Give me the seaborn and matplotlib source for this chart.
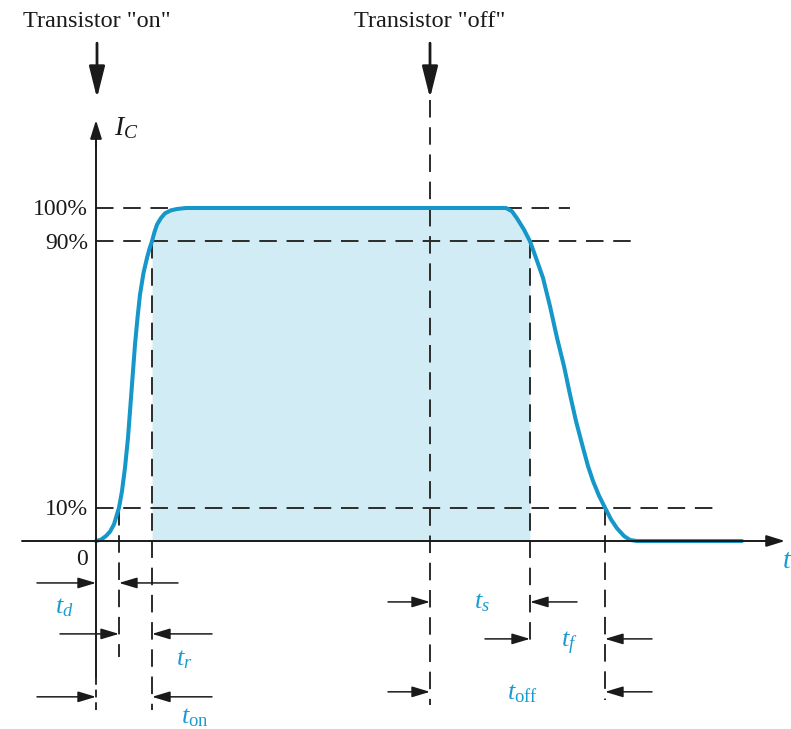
import numpy as np
import pandas as pd
import matplotlib
matplotlib.use("Agg")
import matplotlib.pyplot as plt
import seaborn as sns

# ---- data (time in arbitrary units, current in % of saturation) ----
rise_t = [0, 0.5, 1.0, 1.4, 1.8, 2.3, 2.6, 2.9, 3.2, 3.4, 3.65, 3.9, 4.15, 4.4,
          4.75, 5.1, 5.35, 5.6, 5.85, 6.1, 6.5, 6.9, 7.5, 8.1, 9.0]
rise_i = [0, 0.4, 1.5, 2.8, 5, 10, 15, 22, 31, 39, 49, 59, 67, 74,
          80.5, 85, 87.8, 90, 92.8, 95, 97, 98.4, 99.3, 99.7, 100]
fall_t = [41.0, 41.6, 42.1, 42.8, 43.4, 44.0, 44.7, 45.4, 46.1, 46.8, 47.4, 48.0,
          48.7, 49.2, 49.7, 50.3, 50.9, 51.5, 52.1, 52.8, 53.4, 54.1, 64.6]
fall_i = [100, 99.0, 96.9, 93.5, 90, 85, 79, 70.5, 61, 52.5, 44, 36,
          28, 22.5, 18, 13.6, 10, 6.5, 3.8, 1.5, 0.3, 0, 0]

levels = [100, 90, 10]
level_labels = ["100%", "90%", "10%"]
level_dash_end = [47.4, 54.4, 62.4]

t_on_event = 0.0      # transistor "on"
t_d_end = 2.3         # 10% on rise
t_r_end = 5.6         # 90% on rise
t_off_event = 33.4    # transistor "off"
t_s_end = 43.4        # 90% on fall
t_f_end = 50.9        # 10% on fall

top_labels = ['Transistor "on"', 'Transistor "off"']

sns.set_theme(style="white")
plt.rcParams["font.family"] = ["Liberation Serif", "DejaVu Serif"]
plt.rcParams["mathtext.fontset"] = "custom"
plt.rcParams["mathtext.it"] = "Liberation Serif:italic"
plt.rcParams["mathtext.rm"] = "Liberation Serif"
plt.rcParams["mathtext.cal"] = "Liberation Serif:italic"

BLUE = "#1597c9"
FILL = "#d2ecf6"
DASH = "#2b2b2b"
TXTBLUE = "#1a9bd0"

fig = plt.figure(figsize=(7.91, 7.29), dpi=100)
ax = fig.add_axes([0, 0, 1, 1])
ax.set_xlim(-9.6, 69.5)
ax.set_ylim(-56.46, 162.46)
ax.axis("off")

df = pd.DataFrame({"t": rise_t + fall_t, "i": rise_i + fall_i})

# fill between 90% points
mask = (df["t"] >= t_r_end - 1e-9) & (df["t"] <= t_s_end + 1e-9)
ax.fill_between(df["t"][mask], 0, df["i"][mask], color=FILL, lw=0, zorder=1)

sns.lineplot(data=df, x="t", y="i", ax=ax, color=BLUE, lw=2.9, sort=False,
             estimator=None, zorder=4)
for ln in ax.lines:
    ln.set_solid_joinstyle("round")
    ln.set_solid_capstyle("round")

dash = (0, (9, 5))
lw_d = 1.4
# horizontal dashed levels
for lv, xe in zip(levels, level_dash_end):
    ax.plot([0, xe], [lv, lv], color=DASH, lw=lw_d, ls=dash, zorder=3)

# vertical dashed lines
ax.plot([t_d_end, t_d_end], [10, -34.8], color=DASH, lw=lw_d, ls=dash, zorder=3)
ax.plot([t_r_end, t_r_end], [90, -50.8], color=DASH, lw=lw_d, ls=dash, zorder=3)
ax.plot([t_off_event, t_off_event], [132.4, -49.2], color=DASH, lw=lw_d, ls=dash, zorder=3)
ax.plot([t_s_end, t_s_end], [90, -32.1], color=DASH, lw=lw_d, ls=dash, zorder=3)
ax.plot([t_f_end, t_f_end], [10, -47.7], color=DASH, lw=lw_d, ls=dash, zorder=3)
ax.plot([0, 0], [-40.8, -50.8], color=DASH, lw=lw_d, ls=(0, (4, 2.5)), zorder=3)

# axes lines with arrows
ax.plot([0, 0], [-40.8, 120], color="k", lw=1.4, zorder=5)
ax.annotate("", xy=(0, 126.4), xytext=(0, 118),
            arrowprops=dict(arrowstyle="-|>,head_length=0.8,head_width=0.25",
                            color="k", lw=1.4,
                            mutation_scale=14, shrinkA=0, shrinkB=0), zorder=5)
ax.plot([-7.4, 68.0], [0, 0], color="k", lw=1.4, zorder=5)
ax.annotate("", xy=(68.9, 0), xytext=(66.5, 0),
            arrowprops=dict(arrowstyle="-|>,head_length=0.8,head_width=0.25",
                            color="k", lw=1.4,
                            mutation_scale=14, shrinkA=0, shrinkB=0), zorder=5)

# top event arrows
for tx, lab in zip([t_on_event + 0.1, t_off_event], top_labels):
    ax.annotate("", xy=(tx, 133.0), xytext=(tx, 149.5),
                arrowprops=dict(arrowstyle="-|>,head_length=1.2,head_width=0.3",
                                color="k", lw=2.0, mutation_scale=16,
                                shrinkA=0, shrinkB=0))
    ax.text(tx, 155.9, lab, ha="center", va="center", fontsize=17.5, color="k")

# level labels
for lv, lab in zip(levels, level_labels):
    ax.text(-0.8, lv - 0.6, lab, ha="right", va="center", fontsize=17, color="k")
ax.text(-1.4, -5.7, "0", ha="center", va="center", fontsize=17, color="k")
ax.text(1.8, 124.0, r"$I_C$", ha="left", va="center", fontsize=20, color="k")
ax.text(68.6, -6.3, r"$t$", ha="left", va="center", fontsize=20, color=TXTBLUE)

# measurement arrows
def meas(y, x0, x1):
    ax.annotate("", xy=(x1, y), xytext=(x0, y),
                arrowprops=dict(arrowstyle="-|>,head_length=1.0,head_width=0.3",
                                color="k", lw=1.1, mutation_scale=11,
                                shrinkA=0, shrinkB=0), zorder=6)

rows = [
    (-12.6, -5.9, t_on_event, 8.2, t_d_end),
    (-27.9, -3.6, t_d_end, 11.6, t_r_end),
    (-46.8, -5.9, t_on_event, 11.6, t_r_end),
    (-18.3, 29.2, t_off_event, 48.1, t_s_end),
    (-29.4, 38.9, t_s_end, 55.6, t_f_end),
    (-45.3, 29.2, t_off_event, 55.6, t_f_end),
]
for y, la, lb, ra, rb in rows:
    meas(y, la, lb)
    meas(y, ra, rb)

labels = [
    (-3.2, -20.1, r"$t_d$"),
    (8.8, -35.7, r"$t_r$"),
    (9.9, -53.0, r"$t_{\mathrm{on}}$"),
    (38.6, -18.6, r"$t_s$"),
    (47.3, -30.9, r"$t_f$"),
    (42.6, -45.9, r"$t_{\mathrm{off}}$"),
]
for x, y, s in labels:
    ax.text(x, y, s, ha="center", va="center", fontsize=19, color=TXTBLUE)

fig.savefig("out.png", dpi=100)
